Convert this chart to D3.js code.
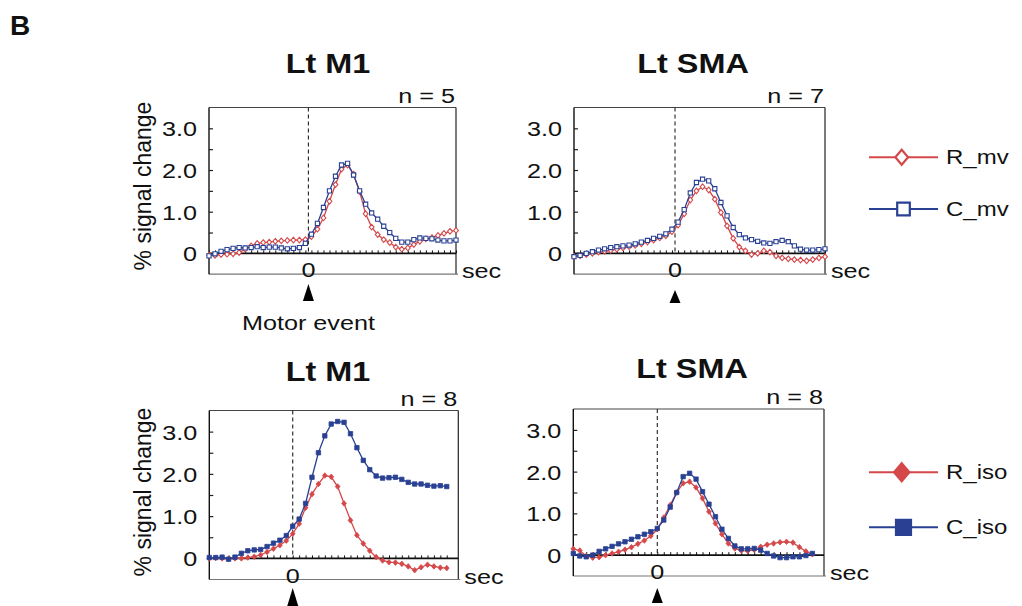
<!DOCTYPE html>
<html><head><meta charset="utf-8">
<script src="https://cdn.jsdelivr.net/npm/d3@7"></script>
<style>
body{margin:0;background:#fff}
svg{display:block}
text{font-family:"Liberation Sans",Arial,Helvetica,sans-serif;fill:#111}
</style>
</head><body>
<svg id="c" width="1022" height="606"></svg>
<script>
// ---------- data ----------
const timesTop = [-8.25,-7.75,-7.25,-6.75,-6.25,-5.75,-5.25,-4.75,-4.25,-3.75,-3.25,-2.75,-2.25,-1.75,-1.25,-0.75,-0.25,0.25,0.75,1.25,1.75,2.25,2.75,3.25,3.75,4.25,4.75,5.25,5.75,6.25,6.75,7.25,7.75,8.25,8.75,9.25,9.75,10.25,10.75,11.25,11.75,12.25];
const timesBottom = [-6.5,-6,-5.5,-5,-4.5,-4,-3.5,-3,-2.5,-2,-1.5,-1,-0.5,0,0.5,1,1.5,2,2.5,3,3.5,4,4.5,5,5.5,6,6.5,7,7.5,8,8.5,9,9.5,10,10.5,11,11.5,12];

const m1_R_mv = [-0.04,-0.05,-0.03,-0.02,-0.01,0.02,0.10,0.18,0.24,0.26,0.27,0.29,0.30,0.31,0.32,0.32,0.33,0.40,0.58,0.85,1.25,1.65,2.02,2.12,1.90,1.48,0.95,0.63,0.45,0.33,0.26,0.15,0.10,0.13,0.21,0.29,0.35,0.38,0.43,0.48,0.53,0.55];
const m1_C_mv = [-0.06,-0.01,0.05,0.09,0.12,0.14,0.13,0.14,0.16,0.14,0.15,0.15,0.13,0.11,0.12,0.14,0.24,0.46,0.72,1.10,1.50,1.85,2.12,2.16,1.88,1.50,1.18,0.97,0.82,0.65,0.50,0.36,0.27,0.27,0.33,0.37,0.36,0.35,0.32,0.30,0.30,0.32];

const sma_R_mv = [-0.07,-0.06,-0.03,0.00,0.03,0.05,0.07,0.10,0.13,0.16,0.19,0.23,0.27,0.32,0.37,0.42,0.52,0.68,0.95,1.28,1.50,1.60,1.52,1.30,0.98,0.66,0.36,0.15,0.06,-0.03,0.00,0.06,0.03,-0.06,-0.11,-0.13,-0.15,-0.16,-0.18,-0.15,-0.11,-0.08];
const sma_C_mv = [-0.08,-0.05,0.00,0.04,0.08,0.11,0.14,0.16,0.18,0.20,0.23,0.27,0.31,0.36,0.41,0.47,0.58,0.75,1.05,1.45,1.70,1.78,1.74,1.55,1.22,0.90,0.62,0.45,0.37,0.33,0.29,0.25,0.24,0.28,0.31,0.28,0.18,0.10,0.08,0.08,0.09,0.11];

const m1_R_iso = [0.00,0.01,0.00,-0.01,0.00,0.00,0.02,0.04,0.08,0.15,0.23,0.31,0.42,0.58,0.82,1.20,1.52,1.76,1.96,1.93,1.70,1.30,0.90,0.55,0.35,0.18,0.03,-0.05,-0.09,-0.10,-0.13,-0.19,-0.28,-0.21,-0.15,-0.19,-0.22,-0.23];
const m1_C_iso = [0.02,0.02,0.03,-0.02,0.03,0.12,0.18,0.20,0.21,0.28,0.36,0.43,0.54,0.76,0.93,1.30,1.92,2.50,2.90,3.18,3.24,3.22,2.95,2.62,2.32,2.10,1.95,1.90,1.91,1.92,1.87,1.80,1.76,1.76,1.73,1.71,1.72,1.70];

const sma_R_iso = [0.15,0.11,-0.02,-0.06,-0.05,0.00,0.04,0.08,0.13,0.19,0.27,0.35,0.46,0.62,0.90,1.20,1.50,1.72,1.76,1.62,1.36,1.04,0.76,0.50,0.28,0.16,0.11,0.10,0.13,0.20,0.25,0.28,0.31,0.32,0.30,0.19,0.09,0.02];
const sma_C_iso = [0.04,-0.02,-0.04,0.00,0.09,0.15,0.21,0.27,0.32,0.38,0.44,0.50,0.56,0.64,0.84,1.15,1.50,1.88,1.96,1.82,1.52,1.22,0.92,0.62,0.40,0.22,0.15,0.15,0.16,0.12,0.04,-0.02,-0.06,-0.06,-0.04,-0.04,-0.01,0.04];

const yTickValues = [0, 1, 2, 3];
const yTickLabels = ["0", "1.0", "2.0", "3.0"];
const yMinorTicks = [0.5, 1, 1.5, 2, 2.5, 3];
const panelTitles = ["Lt M1", "Lt SMA", "Lt M1", "Lt SMA"];
const nLabels = ["n = 5", "n = 7", "n = 8", "n = 8"];
const legendTop = ["R_mv", "C_mv"];
const legendBottom = ["R_iso", "C_iso"];

// ---------- layout ----------
const RED = "#d4484a", BLUE = "#2a4193";
const panels = [
  {title:panelTitles[0], n:nLabels[0], times:timesTop, R:m1_R_mv, C:m1_C_mv, filled:false,
   xr:[209,456], yr:[274.2,107.5], xd:[-8.25,12.25], titleX:328, titleY:73, ylab:true, ylabY:186, arrow:[284,301], motor:true},
  {title:panelTitles[1], n:nLabels[1], times:timesTop, R:sma_R_mv, C:sma_C_mv, filled:false,
   xr:[574,825], yr:[274.2,107.5], xd:[-8.25,12.25], titleX:693, titleY:73, ylab:false, arrow:[290,303]},
  {title:panelTitles[2], n:nLabels[2], times:timesBottom, R:m1_R_iso, C:m1_C_iso, filled:true,
   xr:[209.3,458.3], yr:[579.5,410.5], xd:[-6.5,12.9], titleX:328, titleY:381, ylab:true, ylabY:492, arrow:[588,606]},
  {title:panelTitles[3], n:nLabels[3], times:timesBottom, R:sma_R_iso, C:sma_C_iso, filled:true,
   xr:[573.3,824], yr:[576,409], xd:[-6.5,12.9], titleX:692, titleY:378, ylab:false, arrow:[588,603]}
];

const svg = d3.select("#c");

function txt(sel, x, y, s, o={}) {
  const g = sel.append("g").attr("transform", `translate(${x},${y}) scale(${o.sx ?? 1.2},1)`);
  return g.append("text")
    .attr("text-anchor", o.anchor || "start")
    .attr("font-size", o.size || 21)
    .attr("font-weight", o.weight || "normal")
    .text(s);
}

function diamondPath(r){ return `M0,${-r}L${r*0.85},0L0,${r}L${-r*0.85},0Z`; }
function squarePath(h){ return `M${-h},${-h}H${h}V${h}H${-h}Z`; }

txt(svg, 10, 35, "B", {size:28, weight:"bold", sx:1.0});

panels.forEach(p => {
  const g = svg.append("g");
  const x = d3.scaleLinear().domain(p.xd).range(p.xr);
  const y = d3.scaleLinear().domain([-0.5, 3.5]).range(p.yr);
  const [L, R] = p.xr;
  const top = y(3.5), bot = y(-0.5), zy = y(0);

  // frame
  g.append("line").attr("x1",L).attr("x2",R).attr("y1",top).attr("y2",top).attr("stroke","#444").attr("stroke-width",1);
  g.append("line").attr("x1",R).attr("x2",R).attr("y1",top).attr("y2",bot).attr("stroke","#222").attr("stroke-width",1.2);
  g.append("line").attr("x1",L).attr("x2",R+2).attr("y1",bot).attr("y2",bot).attr("stroke","#777").attr("stroke-width",1.2);

  // left axis
  const ax = d3.axisLeft(y).tickValues(yMinorTicks).tickSize(-4).tickFormat("");
  const axg = g.append("g").attr("transform", `translate(${L},0)`).call(ax);
  axg.select(".domain").remove();
  axg.selectAll(".tick line").attr("stroke","#222").attr("stroke-width",1.2);
  g.append("line").attr("x1",L).attr("x2",L).attr("y1",top).attr("y2",bot).attr("stroke","#111").attr("stroke-width",1.4);
  yTickValues.forEach((v,i) => txt(g, L-12, y(v)+8, yTickLabels[i], {anchor:"end"}));

  // zero line with ticks
  g.append("line").attr("x1",L).attr("x2",R).attr("y1",zy).attr("y2",zy).attr("stroke","#111").attr("stroke-width",1.6);
  const xa = d3.axisTop(x).tickValues(p.times).tickSize(3).tickFormat("");
  const xag = g.append("g").attr("transform", `translate(0,${zy})`).call(xa);
  xag.select(".domain").remove();
  xag.selectAll(".tick line").attr("stroke","#111").attr("stroke-width",1);

  // event line
  g.append("line").attr("x1",x(0)).attr("x2",x(0)).attr("y1",top).attr("y2",zy)
    .attr("stroke","#222").attr("stroke-width",1.1).attr("stroke-dasharray","4,3");
  txt(g, x(0), bot+3, "0", {anchor:"middle"});
  txt(g, R+6, bot+4, "sec");
  g.append("path").attr("d", `M${x(0)},${p.arrow[0]}L${x(0)+5.5},${p.arrow[1]}L${x(0)-5.5},${p.arrow[1]}Z`).attr("fill","#000");
  if (p.motor) txt(g, x(0), 330, "Motor event", {anchor:"middle"});

  // titles
  txt(g, p.titleX, p.titleY, p.title, {anchor:"middle", size:27, weight:"bold"});
  txt(g, R-1, top-5, p.n, {anchor:"end"});
  if (p.ylab) {
    g.append("text").attr("transform", `translate(151,${p.ylabY}) rotate(-90)`)
      .attr("text-anchor","middle").attr("font-size",23).text("% signal change");
  }

  // series
  const line = d3.line().x((d,i)=>x(p.times[i])).y(d=>y(d));
  [[p.R, RED, "d"], [p.C, BLUE, "s"]].forEach(([vals, col, sym]) => {
    g.append("path").datum(vals).attr("d", line).attr("fill","none").attr("stroke",col).attr("stroke-width",1.3);
    g.selectAll(null).data(vals).enter().append("path")
      .attr("transform", (d,i)=>`translate(${x(p.times[i])},${y(d)})`)
      .attr("d", sym==="d" ? diamondPath(2.8) : squarePath(p.filled?2.2:2.1))
      .attr("fill", p.filled ? col : "#fff")
      .attr("stroke", col).attr("stroke-width", p.filled?0.8:1.1);
  });
});

// legends
function legend(y1, y2, labels, filled) {
  const g = svg.append("g");
  [[y1, RED, "d", labels[0]], [y2, BLUE, "s", labels[1]]].forEach(([yy, col, sym, lab]) => {
    g.append("line").attr("x1",869).attr("x2",938).attr("y1",yy).attr("y2",yy).attr("stroke",col).attr("stroke-width",2);
    g.append("path").attr("transform",`translate(${sym==="d"?901.7:903.5},${yy})`)
      .attr("d", sym==="d" ? diamondPath(filled?9:7.5) : squarePath(filled?7.5:6.3))
      .attr("fill", filled ? col : "#fff").attr("stroke", col).attr("stroke-width", 2.2);
    txt(g, 946, yy+7, lab, {size:20});
  });
}
legend(157.3, 209, legendTop, false);
legend(472.3, 527.3, legendBottom, true);
</script>
</body></html>
